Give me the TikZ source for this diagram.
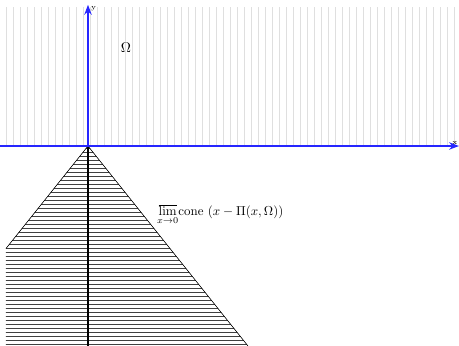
\documentclass[tikz,border=0pt]{standalone}
\usepackage{amsmath,amssymb}
\usetikzlibrary{positioning, arrows.meta, calc}

\begin{document}
\begin{tikzpicture}[>=Stealth,
    axisline/.style={->, blue!85, line width=0.9pt},
    axislabel/.style={font=\tiny, inner sep=1pt},
    hatchline/.style={black!75, line width=0.35pt},
    coneedge/.style={black, line width=0.4pt}]
    \useasboundingbox (-2.2,-5) rectangle (9.275,3.65);

    % --- REGION OMEGA (vertical hatching) ---
    \foreach \x in {-2.05,-1.875,...,9.2}
        \draw[gray!25, line width=0.5pt] (\x,0) -- (\x,3.48);
    \node (omega) at (0.95,2.47) {$\Omega$};

    % --- CONE (horizontal hatching) ---
    \coordinate (apex) at (0,0);
    \coordinate (coneL) at (-2.05,-2.5625);
    \coordinate (coneLB) at (-2.05,-5);
    \coordinate (coneR) at (4,-5);
    \begin{scope}
        \clip (apex) -- (coneL) -- (coneLB) -- (coneR) -- cycle;
        \foreach \y in {-4.95,-4.85,...,0}
            \draw[hatchline] (-2.1,\y) -- (4.1,\y);
    \end{scope}
    \draw[coneedge] (coneL) -- (apex) -- (coneR);
    \coordinate (bottom) at (0,-5);
    \draw[black, line width=1.6pt] (apex) -- (bottom);
    \node[anchor=west, inner sep=0pt, scale=0.92] (conelabel) at (1.72,-1.72)
        {$\underset{x\to 0}{\overline{\mathrm{lim}}}\mathrm{cone}\ (x-\Pi(x,\Omega))$};

    % --- AXES ---
    \coordinate (xstart) at (-2.2,0);
    \coordinate (xend) at (9.275,0);
    \coordinate (yend) at (0,3.53);
    \draw[axisline] (xstart) -- (xend);
    \draw[axisline] (apex) -- (yend);
    \node[axislabel, above left=0pt and 0pt of xend] (xlabel) {x};
    \node[axislabel, below right=0pt and 1pt of yend] (ylabel) {y};
\end{tikzpicture}
\end{document}
